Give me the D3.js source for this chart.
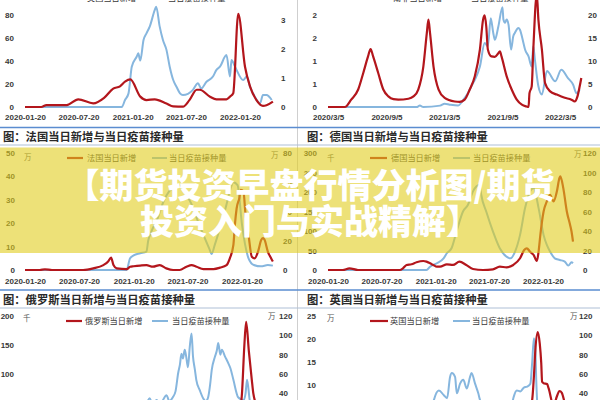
<!DOCTYPE html>
<html><head><meta charset="utf-8">
<script src="https://cdn.jsdelivr.net/npm/d3@7"></script>
<style>body{margin:0;background:#fff}svg{display:block}</style>
</head><body><svg id="c" width="600" height="400"></svg>
<script>
// ---------------- DATA ----------------
const monthTicks = ["2020-01-20","2020-07-20","2021-01-20","2021-07-20","2022-01-20"];
const saTickDates = ["2020-03-05","2020-09-05","2021-03-05","2021-09-05","2022-03-05"];
const saTickLabels = ["2020/3/5","2020/9/5","2021/3/5","2021/9/5","2022/3/5"];

const tlLeftTicks = [0,20,40,60,80];
const tlRightTicks = [0,1,2,3];
const trLeftTicks = [0,0.5,1,1.5,2];
const trLeftLabels = ["0","1","1","2","2"];
const trRightTicks = [0,5,10,15,20];
const frLeftTicks = [0,10,20,30,40,50];
const frRightTicks = [0,20,40,60,80];
const deLeftTicks = [0,50,100,150,200,250,300];
const deRightTicks = [0,20,40,60,80,100,120];
const ruLeftTicks = [0,50,100,150,200];
const ruRightTicks = [0,20,40,60,80,100,120];
const ukLeftTicks = [0,5,10,15,20,25];
const ukRightTicks = [0,20,40,60,80,100,120];

const legendNames = ["美国当日新增","南非当日新增","法国当日新增","德国当日新增","俄罗斯当日新增","英国当日新增"];
const vaxName = "当日疫苗接种量";
const titles = ["图：法国当日新增与当日疫苗接种量","图：德国当日新增与当日疫苗接种量","图：俄罗斯当日新增与当日疫苗接种量","图：英国当日新增与当日疫苗接种量"];
const bannerLines = ["【期货投资早盘行情分析图/期货","投资入门与实战精解】"];

// top-left (US)
const usCases = [["2020-01-20",0],["2020-03-15",0],["2020-04-02",1.7],["2020-06-10",1.7],["2020-07-19",6.7],["2020-09-08",3.2],["2020-10-15",8],["2020-11-15",16],["2020-12-08",18],["2020-12-25",22],["2021-01-12",24],["2021-02-15",9],["2021-03-08",6],["2021-04-05",6.7],["2021-05-15",3],["2021-06-07",0.5],["2021-07-10",0.3],["2021-08-01",6],["2021-08-26",15],["2021-09-05",15],["2021-10-10",9],["2021-11-01",6.7],["2021-12-05",6.7],["2021-12-17",9],["2021-12-28",12],["2022-01-14",81],["2022-02-06",35],["2022-02-23",18],["2022-03-17",6],["2022-04-08",1],["2022-04-20",1.5],["2022-05-12",4.6]];
const usVax = [["2020-01-20",0],["2020-12-14",0],["2020-12-25",0.24],["2021-01-06",0.47],["2021-01-17",1.39],["2021-02-03",1.74],["2021-02-08",1.85],["2021-02-15",1.6],["2021-02-26",2.31],["2021-03-08",2.54],["2021-03-19",2.77],["2021-04-05",3.34],["2021-04-10",3.46],["2021-04-22",2.77],["2021-05-03",2.31],["2021-05-15",1.97],["2021-05-26",1.39],["2021-06-07",0.93],["2021-06-18",0.7],["2021-06-30",0.47],["2021-07-10",0.41],["2021-08-13",0.59],["2021-08-30",0.82],["2021-09-10",0.64],["2021-09-28",0.87],["2021-10-20",1.05],["2021-11-01",1.28],["2021-11-13",1.39],["2021-12-05",1.79],["2021-12-17",1.05],["2021-12-22",1.62],["2022-01-03",1.39],["2022-01-31",0.93],["2022-02-12",1.05],["2022-02-23",0.7],["2022-03-11",0.36],["2022-03-29",0.13],["2022-04-08",0.41],["2022-04-20",0.41],["2022-05-08",0.24]];

// top-right (South Africa)
const saCases = [["2020-03-05",0],["2020-04-27",0],["2020-05-17",0.16],["2020-06-08",0.38],["2020-06-24",0.74],["2020-07-09",1.1],["2020-07-17",1.26],["2020-07-25",1.1],["2020-08-10",0.74],["2020-08-26",0.38],["2020-09-11",0.23],["2020-09-27",0.17],["2020-10-12",0.16],["2020-11-13",0.18],["2020-11-29",0.23],["2020-12-14",0.38],["2020-12-30",0.88],["2021-01-10",1.61],["2021-01-15",1.9],["2021-01-20",1.61],["2021-01-31",0.88],["2021-02-16",0.38],["2021-03-07",0.2],["2021-04-08",0.12],["2021-04-23",0.11],["2021-05-09",0.16],["2021-05-25",0.38],["2021-06-10",0.67],["2021-06-26",1.25],["2021-07-06",1.9],["2021-07-11",1.99],["2021-07-16",1.75],["2021-07-21",1.25],["2021-08-01",1.1],["2021-08-12",1.09],["2021-08-23",1.17],["2021-08-28",1.21],["2021-09-02",1.1],["2021-09-18",0.67],["2021-10-04",0.38],["2021-10-20",0.16],["2021-11-05",0.05],["2021-11-20",0.01],["2021-11-26",0],["2021-11-29",0.3],["2021-12-06",0.45],["2021-12-11",1.25],["2021-12-22",2.45],["2021-12-27",1.9],["2022-01-07",1.25],["2022-01-17",0.52],["2022-02-02",0.34],["2022-02-23",0.27],["2022-03-20",0.2],["2022-04-10",0.16],["2022-04-20",0.12],["2022-04-29",0.23],["2022-05-06",0.45],["2022-05-11",0.63]];
const saVax = [["2020-03-05",0],["2020-12-09",0],["2020-12-19",0.3],["2020-12-30",0],["2021-02-21",0.3],["2021-03-07",0.7],["2021-03-23",0.5],["2021-04-18",0.3],["2021-05-04",1.5],["2021-05-19",3.0],["2021-05-30",4.5],["2021-06-10",5.9],["2021-06-26",8.8],["2021-07-11",13.9],["2021-07-21",13.2],["2021-07-30",19.3],["2021-08-07",16.1],["2021-08-12",14.6],["2021-08-23",17.5],["2021-09-05",21.7],["2021-09-08",19],["2021-09-13",18.3],["2021-09-18",19],["2021-09-24",17.9],["2021-10-02",12.5],["2021-10-09",15.4],["2021-10-14",16.1],["2021-10-25",17.2],["2021-10-30",16.8],["2021-11-10",13.9],["2021-11-15",12.5],["2021-11-26",11],["2021-12-06",8.8],["2021-12-11",13.2],["2021-12-16",10.3],["2021-12-27",4.5],["2022-01-07",2.7],["2022-01-23",7.8],["2022-02-18",5.6],["2022-03-09",8.1],["2022-03-30",6.3],["2022-04-15",4.9],["2022-04-26",3.0],["2022-05-06",3.8]];

// France
const frCases = [["2020-01-20",0],["2020-03-10",0],["2020-03-27",0.3],["2020-04-20",0],["2020-08-03",0],["2020-09-06",0.7],["2020-10-10",2.1],["2020-10-26",3.6],["2020-11-05",5.3],["2020-11-13",2.1],["2020-11-24",0.7],["2020-12-28",0.4],["2021-01-08",1.4],["2021-01-20",1.6],["2021-02-11",1.9],["2021-03-04",2.1],["2021-03-26",1.4],["2021-04-18",2.1],["2021-05-10",0.7],["2021-06-02",0],["2021-06-24",0],["2021-07-17",1.4],["2021-08-03",2.1],["2021-08-20",1.4],["2021-09-12",0.4],["2021-10-16",0.4],["2021-11-07",1],["2021-11-29",2.1],["2021-12-10",5],["2021-12-22",10.7],["2021-12-27",19.3],["2022-01-02",26.4],["2022-01-11",30.7],["2022-01-16",34.3],["2022-01-25",33.6],["2022-01-31",25],["2022-02-11",15],["2022-02-22",5.7],["2022-03-04",5],["2022-03-15",7.9],["2022-03-26",12.9],["2022-04-01",13.6],["2022-04-06",12.9],["2022-04-17",7.9],["2022-04-28",5],["2022-05-04",3.6]];
const frVax = [["2020-01-20",0],["2020-12-27",0],["2021-01-08",8],["2021-01-20",10],["2021-02-11",11.4],["2021-03-04",12.6],["2021-03-10",20],["2021-03-20",26],["2021-04-10",35],["2021-05-01",47],["2021-05-20",54],["2021-06-10",57],["2021-06-25",58],["2021-07-15",52],["2021-08-03",45],["2021-08-25",33],["2021-09-12",24],["2021-10-01",15],["2021-10-10",11],["2021-10-20",17],["2021-11-10",31],["2021-11-29",45],["2021-12-10",54],["2021-12-22",60],["2022-01-05",58],["2022-01-20",31],["2022-02-11",8],["2022-03-01",3.4],["2022-03-25",2.5],["2022-04-17",3.4],["2022-05-04",3]];

// Germany
const deCases = [["2020-01-20",0],["2020-03-10",0],["2020-04-02",4.3],["2020-05-01",0],["2020-09-20",0],["2020-10-01",4.3],["2020-10-13",12.9],["2020-10-30",14.6],["2020-11-16",19.7],["2020-12-09",23.1],["2020-12-20",21.4],["2021-01-01",17.1],["2021-01-12",12.9],["2021-01-24",8.6],["2021-02-04",8.6],["2021-02-27",14.6],["2021-03-20",12.9],["2021-04-11",21.4],["2021-05-04",12.9],["2021-05-27",2.6],["2021-06-30",0],["2021-08-03",1.7],["2021-08-26",8.6],["2021-09-18",6.9],["2021-10-11",12.9],["2021-11-03",30],["2021-11-17",51.4],["2021-11-26",55.7],["2021-12-07",47],["2021-12-19",38.6],["2021-12-30",23.1],["2022-01-05",47],["2022-01-11",90],["2022-01-22",150],["2022-02-02",176],["2022-02-13",193],["2022-02-25",176],["2022-03-08",201],["2022-03-17",236],["2022-03-20",240],["2022-03-30",210],["2022-04-11",150],["2022-04-22",116],["2022-04-27",98.6],["2022-05-02",72.9]];
const deVax = [["2020-01-20",0],["2020-12-20",0],["2021-01-01",3.4],["2021-01-24",6.9],["2021-02-16",12],["2021-02-27",17.2],["2021-03-15",22.3],["2021-04-01",39.4],["2021-04-23",60],["2021-05-10",66.9],["2021-05-27",80.6],["2021-06-08",85.8],["2021-06-19",87.5],["2021-06-24",77.2],["2021-07-11",60],["2021-08-03",39.4],["2021-08-26",22.3],["2021-09-18",13.7],["2021-10-02",12],["2021-10-17",18.9],["2021-11-03",36],["2021-11-20",63.5],["2021-12-07",80.6],["2021-12-19",84],["2022-01-05",63.5],["2022-01-22",36],["2022-02-02",25.7],["2022-02-13",18.9],["2022-03-01",12],["2022-03-18",10.3],["2022-04-04",8.6],["2022-04-16",4.5],["2022-04-27",7.9],["2022-05-02",6.9]];

// Russia
const ruCases = [["2020-01-20",0],["2020-04-01",3],["2020-05-12",10],["2020-06-15",8],["2020-08-15",5],["2020-10-01",8],["2020-11-01",18],["2020-12-24",29],["2021-02-01",19],["2021-03-15",10],["2021-05-15",8],["2021-06-10",12],["2021-07-10",25],["2021-08-20",20],["2021-10-01",22],["2021-11-05",41],["2021-12-10",30],["2022-01-05",16],["2022-01-12",30],["2022-01-20",67],["2022-01-28",150],["2022-02-03",190],["2022-02-12",140],["2022-02-22",90],["2022-02-27",67],["2022-03-15",40],["2022-04-10",15],["2022-05-05",8]];
const ruVax = [["2020-01-20",0],["2020-12-10",0],["2020-12-25",2],["2021-01-20",8],["2021-02-20",18],["2021-03-15",35],["2021-03-25",28],["2021-04-07",33],["2021-04-20",30],["2021-05-11",38],["2021-05-20",32],["2021-06-01",36],["2021-06-10",42],["2021-06-19",61],["2021-06-25",70],["2021-06-30",81],["2021-07-05",76],["2021-07-11",85],["2021-07-16",78],["2021-07-22",67],["2021-07-28",88],["2021-08-03",102],["2021-08-08",78],["2021-08-14",65],["2021-08-19",54],["2021-08-31",43],["2021-09-11",35],["2021-09-20",32],["2021-09-28",36],["2021-10-05",50],["2021-10-10",64],["2021-10-21",78],["2021-10-27",84],["2021-11-01",92],["2021-11-08",80],["2021-11-13",85],["2021-11-24",78],["2021-12-05",71],["2021-12-12",66],["2021-12-22",54],["2022-01-07",36],["2022-01-26",33],["2022-02-01",40],["2022-02-06",54],["2022-02-15",33],["2022-03-01",20],["2022-04-01",10],["2022-05-01",5]];

// UK
const ukCases = [["2020-01-20",0],["2020-03-15",0.2],["2020-04-10",0.5],["2020-06-01",0.2],["2020-08-01",0.1],["2020-10-15",1.8],["2020-11-10",2.3],["2020-12-01",1.5],["2021-01-06",6],["2021-02-15",1.2],["2021-04-01",0.3],["2021-06-01",0.4],["2021-07-18",4.5],["2021-08-10",2.8],["2021-10-20",4.5],["2021-11-20",4],["2021-12-05",5],["2021-12-14",6.7],["2021-12-20",11.8],["2021-12-25",17.6],["2022-01-02",21.5],["2022-01-09",19],["2022-01-14",14.8],["2022-01-17",10.7],["2022-01-22",10.4],["2022-02-03",10.2],["2022-02-08",9.3],["2022-02-25",5.5],["2022-03-08",7.5],["2022-03-17",8.7],["2022-03-25",8.3],["2022-04-04",6.1],["2022-04-22",3],["2022-05-08",1.5]];
const ukVax = [["2020-01-20",0],["2020-12-08",0],["2020-12-20",8],["2021-01-05",20],["2021-01-14",33],["2021-01-31",43],["2021-02-17",38],["2021-02-28",35],["2021-03-10",57],["2021-03-16",61],["2021-03-27",57],["2021-04-02",40],["2021-04-13",50],["2021-04-24",54],["2021-05-06",45],["2021-05-17",57],["2021-05-22",61],["2021-06-03",50],["2021-06-14",40],["2021-06-20",33],["2021-06-25",30],["2021-07-15",22],["2021-08-15",12],["2021-09-15",10],["2021-09-30",18],["2021-10-12",36],["2021-10-23",43],["2021-11-04",42],["2021-11-16",46],["2021-11-27",47],["2021-12-08",50],["2021-12-14",71],["2021-12-20",97],["2021-12-25",85],["2021-12-28",54],["2022-01-02",25],["2022-01-20",15],["2022-02-15",8],["2022-03-15",6],["2022-04-15",5],["2022-05-08",3]];

// ---------------- DRAWING ----------------
const svg = d3.select("#c");
const parse = d3.timeParse("%Y-%m-%d");
const RED = "#b3161c", BLUE = "#86b6de", TXT = "#383838";
const NUM_FONT = "'Liberation Sans', Arial, sans-serif";
const CJK_FONT = "'Noto Sans CJK SC', 'Noto Sans', sans-serif";

svg.append("rect").attr("width",600).attr("height",400).attr("fill","#fff");

function panel(c) {
  const g = svg.append("g");
  const x = d3.scaleTime().domain(c.xAnchor.map(parse)).range(c.xPix);
  const yL = d3.scaleLinear().domain(c.yLDom).range(c.yLPix);
  const yR = d3.scaleLinear().domain(c.yRDom).range(c.yRPix);

  const axes = [];
  if (c.xLabelY !== null) {
    const xa = g.append("g").attr("transform", `translate(0,${c.xLabelY})`)
      .call(d3.axisBottom(x).tickValues(c.xTicks.map(parse))
        .tickFormat((d,i) => c.xLabels[i]).tickSize(0).tickPadding(0));
    xa.selectAll("text").attr("y", 0).attr("dy", "0.35em");
    axes.push(xa);
  }
  axes.push(g.append("g").attr("transform", `translate(${c.leftX},0)`)
    .call(d3.axisLeft(yL).tickValues(c.yLTicks)
      .tickFormat((d,i) => c.yLLabels ? c.yLLabels[i] : String(d)).tickSize(0).tickPadding(0)));
  axes.push(g.append("g").attr("transform", `translate(${c.rightX},0)`)
    .call(d3.axisRight(yR).tickValues(c.yRTicks).tickFormat(d => String(d)).tickSize(0).tickPadding(0)));
  axes.forEach(a => {
    a.select(".domain").remove();
    a.attr("font-family", NUM_FONT).attr("font-size", 8);
    a.selectAll("text").attr("fill", TXT).attr("font-weight", "bold");
  });

  const mk = sc => d3.line().x(d => x(parse(d[0]))).y(d => sc(d[1])).curve(d3.curveMonotoneX);
  g.append("path").attr("d", mk(yR)(c.blue)).attr("fill","none").attr("stroke",BLUE).attr("stroke-width",2).attr("stroke-linejoin","round");
  g.append("path").attr("d", mk(yL)(c.red)).attr("fill","none").attr("stroke",RED).attr("stroke-width",2.2).attr("stroke-linejoin","round");

  // legend
  const L = c.legend;
  g.append("line").attr("x1",L.r[0]).attr("x2",L.r[1]).attr("y1",L.y).attr("y2",L.y).attr("stroke",RED).attr("stroke-width",2.2);
  g.append("line").attr("x1",L.b[0]).attr("x2",L.b[1]).attr("y1",L.y).attr("y2",L.y).attr("stroke",BLUE).attr("stroke-width",2);
  g.append("text").attr("x",L.rt).attr("y",L.y).attr("dy","0.35em").text(c.name)
    .attr("font-family",CJK_FONT).attr("font-size",8.2).attr("fill",TXT);
  g.append("text").attr("x",L.bt).attr("y",L.y).attr("dy","0.35em").text(vaxName)
    .attr("font-family",CJK_FONT).attr("font-size",8.2).attr("fill",TXT);
  if (c.units) {
    c.units.forEach(u => g.append("text").attr("x",u[0]).attr("y",u[1]).attr("dy","0.35em").text(u[2])
      .attr("font-family",CJK_FONT).attr("font-size",7.5).attr("fill","#555"));
  }
}

panel({xAnchor:["2020-01-20","2022-01-20"], xPix:[25,240], yLDom:[0,80], yLPix:[107,15], yRDom:[0,3], yRPix:[107,20],
  xTicks:monthTicks, xLabels:monthTicks, yLTicks:tlLeftTicks, yRTicks:tlRightTicks,
  xLabelY:117, leftX:14, rightX:281, red:usCases, blue:usVax, name:legendNames[0],
  legend:{y:-2, r:[67,83], rt:87, b:[150,165], bt:168}});
panel({xAnchor:["2020-03-05","2022-03-05"], xPix:[328,560], yLDom:[0,2], yLPix:[107,15], yRDom:[0,20], yRPix:[107,15],
  xTicks:saTickDates, xLabels:saTickLabels, yLTicks:trLeftTicks, yLLabels:trLeftLabels, yRTicks:trRightTicks,
  xLabelY:117, leftX:317, rightX:588, red:saCases, blue:saVax, name:legendNames[1],
  legend:{y:-2, r:[372,389], rt:393, b:[452,468], bt:471}});
panel({xAnchor:["2020-01-20","2022-01-20"], xPix:[25,242], yLDom:[0,50], yLPix:[270,153], yRDom:[0,80], yRPix:[270,153],
  xTicks:monthTicks, xLabels:monthTicks, yLTicks:frLeftTicks, yRTicks:frRightTicks,
  xLabelY:281, leftX:15, rightX:283, red:frCases, blue:frVax, name:legendNames[2],
  legend:{y:158, r:[67,83], rt:87, b:[152,167], bt:169}, units:[[24,157,"万"],[271,155,"万"]]});
panel({xAnchor:["2020-01-20","2022-01-20"], xPix:[328,543], yLDom:[0,300], yLPix:[270,153], yRDom:[0,120], yRPix:[270,153],
  xTicks:monthTicks, xLabels:monthTicks, yLTicks:deLeftTicks, yRTicks:deRightTicks,
  xLabelY:281, leftX:317, rightX:583, red:deCases, blue:deVax, name:legendNames[3],
  legend:{y:158, r:[370,387], rt:391, b:[453,470], bt:473}, units:[[327,158,"千"],[574,154,"万"]]});
panel({xAnchor:["2020-01-20","2022-01-20"], xPix:[25,242], yLDom:[0,200], yLPix:[432,316], yRDom:[0,120], yRPix:[432,316],
  xTicks:monthTicks, xLabels:monthTicks, yLTicks:ruLeftTicks, yRTicks:ruRightTicks,
  xLabelY:null, leftX:14, rightX:279, red:ruCases, blue:ruVax, name:legendNames[4],
  legend:{y:321, r:[66,82], rt:85, b:[152,168], bt:172}, units:[[23,318,"千"],[268,316,"万"]]});
panel({xAnchor:["2020-01-20","2022-01-20"], xPix:[328,543], yLDom:[0,25], yLPix:[431,316], yRDom:[0,120], yRPix:[432,316],
  xTicks:monthTicks, xLabels:monthTicks, yLTicks:ukLeftTicks, yRTicks:ukRightTicks,
  xLabelY:null, leftX:316, rightX:579, red:ukCases, blue:ukVax, name:legendNames[5],
  legend:{y:321, r:[370,388], rt:390, b:[453,470], bt:472}, units:[[327,318,"万"],[570,316,"万"]]});

// frame lines & titles
svg.append("line").attr("x1",297.5).attr("x2",297.5).attr("y1",0).attr("y2",400).attr("stroke","#cfcfcf").attr("stroke-width",1);
[127.5, 290].forEach(y => svg.append("line").attr("x1",0).attr("x2",600).attr("y1",y).attr("y2",y).attr("stroke","#5a8cd0").attr("stroke-width",1.6));
[145, 308].forEach(y => svg.append("line").attr("x1",0).attr("x2",600).attr("y1",y).attr("y2",y).attr("stroke","#aebfd6").attr("stroke-width",1));
const titlePos = [[3,137.5],[307,137.5],[3,300.5],[307,300.5]];
titles.forEach((t,i) => svg.append("text").attr("x",titlePos[i][0]).attr("y",titlePos[i][1]).attr("dy","0.35em")
  .text(t).attr("font-family",CJK_FONT).attr("font-size",11.3).attr("font-weight",700).attr("fill","#2a2a2a"));

// banner
svg.append("rect").attr("x",0).attr("y",147.5).attr("width",600).attr("height",105.5)
  .attr("fill","rgb(225,205,30)").attr("fill-opacity",0.6);
const bannerY = [186, 221.5];
bannerLines.forEach((t,i) => svg.append("text").attr("x",310).attr("y",bannerY[i]).attr("dy","0.36em")
  .attr("text-anchor","middle").text(t).attr("font-family",CJK_FONT).attr("font-size",34)
  .attr("font-weight",900).attr("fill","#fff"));
</script></body></html>
